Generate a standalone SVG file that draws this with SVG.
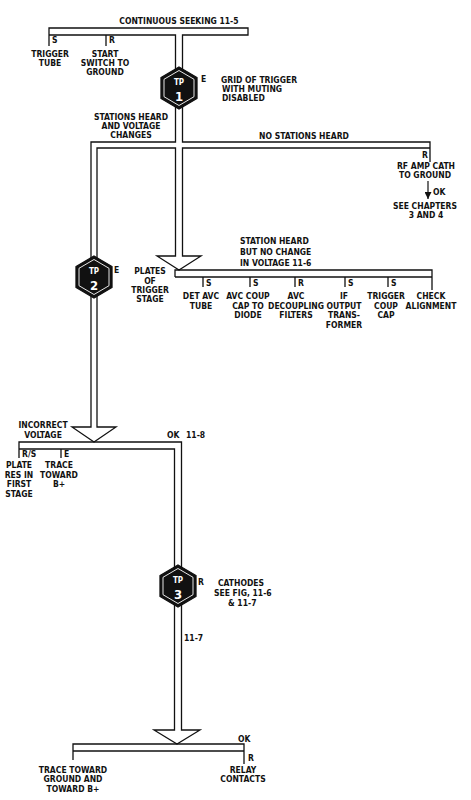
<svg xmlns="http://www.w3.org/2000/svg" width="471" height="800" viewBox="0 0 471 800">
<defs>
<style>
.w{fill:none;stroke:#111;stroke-width:1.3;stroke-linejoin:miter}
.t{font-family:"DejaVu Sans Condensed","Liberation Sans",sans-serif;font-weight:bold;font-size:8.5px;fill:#111}
.m{text-anchor:middle}
.hx{fill:#111;stroke:#111;stroke-width:1.3}
.hi{fill:none;stroke:#fff;stroke-width:0.9}
.tp{font-family:"DejaVu Sans Condensed","Liberation Sans",sans-serif;font-weight:bold;fill:#fff;text-anchor:middle}
</style>
<marker id="ah" viewBox="0 0 8 8" refX="8" refY="4" markerWidth="7" markerHeight="7" orient="auto" markerUnits="userSpaceOnUse">
<path d="M0,0 L8,4 L0,8 Z" fill="#111"/>
</marker>
<g id="hex">
<polygon class="hx" points="0,-21 18,-10.5 18,10.5 0,21 -18,10.5 -18,-10.5"/>
<polygon class="hi" points="0,-17.5 15,-8.7 15,8.7 0,17.5 -15,8.7 -15,-8.7"/>
</g>
</defs>
<rect width="471" height="800" fill="#fff"/>

<g id="connectors">
<!-- top bar and trunk -->
<path class="w" d="M49,46 V28 H248 V35 H182.5 V142 H430 V162"/>
<path class="w" d="M106,35 V46"/>
<path class="w" d="M49,35 H175.5 V142 H91 V427 H72 L94,442 L116,427 H97 V148 H175.5 V256 H157 L179,270 L201,256 H182.5 V148 H430"/>
<!-- no stations: arrow to see chapters -->
<path class="w" d="M428,181 V199" marker-end="url(#ah)" style="stroke-width:1.2"/>
<!-- station heard bar -->
<path class="w" d="M175,277 V270 H432 V290"/>
<path class="w" d="M175,277 H432"/>
<path class="w" d="M203,277 V287 M250,277 V287 M295,277 V287 M345,277 V287 M388,277 V287"/>
<!-- incorrect voltage bar and lower trunk -->
<path class="w" d="M19,458 V442 H181.5 V730 H200 L177,744 L154,730 H174.5 V449 H19"/>
<path class="w" d="M61,449 V458"/>
<!-- bottom bar -->
<path class="w" d="M73,760 V744 H244 V764"/>
<path class="w" d="M73,751 H244"/>
</g>

<g id="tp1">
<use href="#hex" x="179" y="88"/>
<text class="tp" x="179" y="85" font-size="8">TP</text>
<text class="tp" x="179" y="101" font-size="13">1</text>
</g>
<g id="tp2">
<use href="#hex" x="94" y="277"/>
<text class="tp" x="94" y="274" font-size="8">TP</text>
<text class="tp" x="94" y="290" font-size="13">2</text>
</g>
<g id="tp3">
<use href="#hex" x="178" y="586"/>
<text class="tp" x="178" y="583" font-size="8">TP</text>
<text class="tp" x="178" y="599" font-size="13">3</text>
</g>

<g id="top-labels" class="t">
<text class="m" x="179" y="24">CONTINUOUS SEEKING 11-5</text>
<text x="52" y="43">S</text>
<text x="109" y="43">R</text>
<text class="m" x="50" y="57">TRIGGER</text>
<text class="m" x="50" y="66">TUBE</text>
<text class="m" x="105" y="57">START</text>
<text class="m" x="105" y="66">SWITCH TO</text>
<text class="m" x="105" y="75">GROUND</text>
<text x="201" y="82">E</text>
<text x="221" y="83">GRID OF TRIGGER</text>
<text x="222" y="92">WITH MUTING</text>
<text x="222" y="101">DISABLED</text>
<text class="m" x="131" y="120">STATIONS HEARD</text>
<text class="m" x="131" y="129">AND VOLTAGE</text>
<text class="m" x="131" y="138">CHANGES</text>
<text class="m" x="304" y="139">NO STATIONS HEARD</text>
<text x="422" y="158">R</text>
<text class="m" x="426" y="169">RF AMP CATH</text>
<text class="m" x="425" y="178">TO GROUND</text>
<text x="433" y="195">OK</text>
<text class="m" x="425" y="209">SEE CHAPTERS</text>
<text class="m" x="426" y="218">3 AND 4</text>
</g>

<g id="middle-labels" class="t">
<text x="114" y="273">E</text>
<text class="m" x="150" y="274">PLATES</text>
<text class="m" x="150" y="284">OF</text>
<text class="m" x="150" y="293">TRIGGER</text>
<text class="m" x="150" y="302">STAGE</text>
<text x="240" y="244">STATION HEARD</text>
<text x="240" y="255">BUT NO CHANGE</text>
<text x="240" y="266">IN VOLTAGE 11-6</text>
<text x="206" y="286">S</text>
<text x="253" y="286">S</text>
<text x="298" y="286">R</text>
<text x="348" y="286">S</text>
<text x="391" y="286">S</text>
<text class="m" x="201" y="299">DET AVC</text>
<text class="m" x="201" y="308.5">TUBE</text>
<text class="m" x="248" y="299">AVC COUP</text>
<text class="m" x="248" y="308.5">CAP TO</text>
<text class="m" x="248" y="318">DIODE</text>
<text class="m" x="296" y="299">AVC</text>
<text class="m" x="296" y="308.5">DECOUPLING</text>
<text class="m" x="296" y="318">FILTERS</text>
<text class="m" x="344" y="299">IF</text>
<text class="m" x="344" y="308.5">OUTPUT</text>
<text class="m" x="344" y="318">TRANS-</text>
<text class="m" x="344" y="327.5">FORMER</text>
<text class="m" x="386" y="299">TRIGGER</text>
<text class="m" x="386" y="308.5">COUP</text>
<text class="m" x="386" y="318">CAP</text>
<text class="m" x="431" y="299">CHECK</text>
<text class="m" x="431" y="308.5">ALIGNMENT</text>
</g>

<g id="lower-labels" class="t">
<text class="m" x="43" y="428">INCORRECT</text>
<text class="m" x="43" y="438">VOLTAGE</text>
<text x="167" y="438">OK</text>
<text x="186" y="438">11-8</text>
<text x="22" y="457">R/S</text>
<text x="64" y="457">E</text>
<text class="m" x="19" y="468">PLATE</text>
<text class="m" x="19" y="477.5">RES IN</text>
<text class="m" x="19" y="487">FIRST</text>
<text class="m" x="19" y="496.5">STAGE</text>
<text class="m" x="59" y="468">TRACE</text>
<text class="m" x="59" y="477.5">TOWARD</text>
<text class="m" x="59" y="487">B+</text>
<text x="198" y="585">R</text>
<text x="218" y="586">CATHODES</text>
<text x="214" y="596">SEE FIG, 11-6</text>
<text x="228" y="606">&amp; 11-7</text>
<text x="184" y="641">11-7</text>
<text x="238" y="742">OK</text>
<text x="248" y="761">R</text>
<text class="m" x="73" y="773">TRACE TOWARD</text>
<text class="m" x="73" y="782">GROUND AND</text>
<text class="m" x="73" y="791.5">TOWARD B+</text>
<text class="m" x="243" y="773">RELAY</text>
<text class="m" x="243" y="782">CONTACTS</text>
</g>
</svg>
